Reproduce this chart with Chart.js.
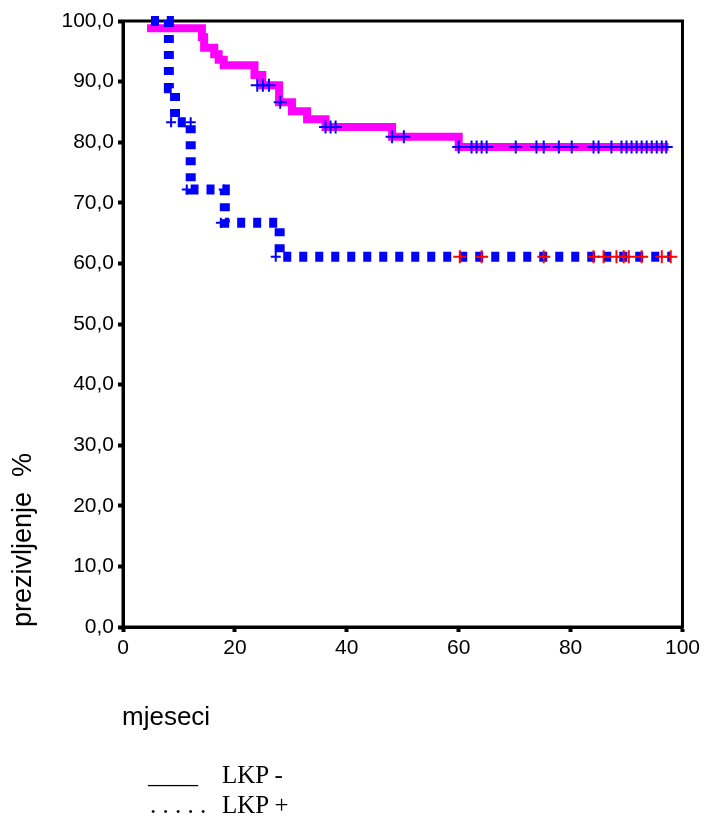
<!DOCTYPE html>
<html>
<head>
<meta charset="utf-8">
<script src="https://cdn.jsdelivr.net/npm/chart.js@4.4.1/dist/chart.umd.min.js"></script>
<style>
  html, body { margin: 0; padding: 0; background: #fff; }
  #wrap { position: relative; width: 704px; height: 816px; }
  #chart { position: absolute; left: 0; top: 0; }
  .lbl { position: absolute; white-space: pre; color: #000; }
  .sans { font-family: 'Liberation Sans', Arial, sans-serif; }
  .serif { font-family: 'Liberation Serif', 'Times New Roman', serif; font-size: 25px; line-height: 25px; }
  #yTitle { font-size: 27px; line-height: 27px; left: 9px; top: 627px; transform: rotate(-90deg); transform-origin: left top; }
  #xTitle { font-size: 26px; line-height: 26px; left: 122px; top: 703px; }
</style>
</head>
<body>
<div id="wrap">
  <canvas id="chart" width="704" height="816"></canvas>
  <div id="yTitle" class="lbl sans">prezivljenje  %</div>
  <div id="xTitle" class="lbl sans">mjeseci</div>
  <div class="lbl serif" style="left:148px; top:762px;">____</div>
  <div class="lbl serif" style="left:222px; top:762px;">LKP -</div>
  <div class="lbl serif" style="left:150px; top:792px;">. . . . .</div>
  <div class="lbl serif" style="left:222px; top:792px;">LKP +</div>
</div>
<script>
// LKP - (solid magenta) : step times and survival %
const monthsNeg = [4.3, 14.1, 14.5, 16.3, 17.1, 18.0, 23.5, 24.9, 27.9, 30.2, 32.9, 36.2, 48.1, 60.0, 97.5];
const survNeg = [98.8, 97.3, 95.6, 94.5, 93.6, 92.7, 91.1, 89.4, 86.6, 85.1, 83.8, 82.5, 80.9, 79.2, 79.2];

// LKP + (dotted blue)
const monthsPos = [5.0, 8.2, 9.3, 12.1, 18.2, 28.0, 97.8];
const survPos = [100, 88.9, 83.3, 72.2, 66.7, 61.1, 61.1];

// censored cases
const censNegMonths = [24.0, 25.0, 26.1, 28.1, 36.2, 37.1, 38.0, 48.1, 50.2,
  60.0, 62.3, 63.2, 64.1, 65.0, 70.2, 73.9, 75.2, 77.9, 80.2, 84.1, 85.0, 87.3,
  89.1, 90.0, 90.9, 91.8, 92.7, 93.6, 94.5, 95.4, 96.3, 97.1];
const censNegSurv = [89.4, 89.4, 89.4, 86.6, 82.5, 82.5, 82.5, 80.9, 80.9,
  79.2, 79.2, 79.2, 79.2, 79.2, 79.2, 79.2, 79.2, 79.2, 79.2, 79.2, 79.2, 79.2,
  79.2, 79.2, 79.2, 79.2, 79.2, 79.2, 79.2, 79.2, 79.2, 79.2];

const censPosEarlyMonths = [8.0, 8.6, 12.1, 11.4, 18.0, 17.5, 27.3];
const censPosEarlySurv = [100, 83.3, 83.3, 72.2, 72.2, 66.7, 61.1];
const censPosMonths = [60.2, 64.1, 75.2, 84.1, 85.9, 88.2, 89.5, 90.4, 92.7, 96.3, 97.9];
const censPosSurv = [61.1, 61.1, 61.1, 61.1, 61.1, 61.1, 61.1, 61.1, 61.1, 61.1, 61.1];

const xTickLabels = ['0', '20', '40', '60', '80', '100'];
const yTickLabels = ['0,0', '10,0', '20,0', '30,0', '40,0', '50,0', '60,0', '70,0', '80,0', '90,0', '100,0'];

function pts(xs, ys) {
    return xs.map((x, i) => ({ x: x, y: ys[i] }));
}

const frame = {
    id: 'frame',
    beforeDatasetsDraw(chart) {
        const { ctx, chartArea: a } = chart;
        ctx.save();
        ctx.strokeStyle = '#000';
        ctx.lineWidth = 3;
        ctx.strokeRect(a.left, a.top, a.right - a.left, a.bottom - a.top);
        ctx.restore();
    }
};

function censorSet(xs, ys, color, r) {
    return {
        type: 'scatter',
        data: pts(xs, ys),
        showLine: false,
        pointStyle: 'cross',
        pointRadius: r,
        pointBorderWidth: 2,
        pointBorderColor: color,
        pointBackgroundColor: color,
        clip: false,
        order: 0
    };
}

Chart.defaults.font.family = "'Liberation Sans', Arial, sans-serif";
Chart.defaults.color = '#000';

new Chart(document.getElementById('chart'), {
    type: 'line',
    data: {
        datasets: [
            censorSet(censNegMonths, censNegSurv, '#0000ff', 6.5),
            censorSet(censPosMonths, censPosSurv, '#ff0000', 6.5),
            censorSet(censPosEarlyMonths, censPosEarlySurv, '#0000ff', 5),
            {
                label: 'LKP +',
                data: pts(monthsPos, survPos),
                stepped: true,
                borderColor: '#0000ff',
                borderWidth: 10,
                borderDash: [8, 8],
                borderCapStyle: 'butt',
                pointRadius: 0,
                fill: false,
                clip: false,
                order: 1
            },
            {
                label: 'LKP -',
                data: pts(monthsNeg, survNeg),
                stepped: true,
                borderColor: '#ff00ff',
                borderWidth: 8,
                borderJoinStyle: 'miter',
                pointRadius: 0,
                fill: false,
                clip: false,
                order: 2
            }
        ]
    },
    options: {
        responsive: false,
        devicePixelRatio: 1,
        animation: false,
        layout: { padding: { top: 21, right: 20, left: 0, bottom: 0 } },
        plugins: {
            legend: { display: false },
            tooltip: { enabled: false }
        },
        scales: {
            x: {
                type: 'linear',
                min: 0,
                max: 100,
                afterFit: s => { s.height = 189; },
                border: { display: true, color: '#000', width: 3 },
                grid: { drawOnChartArea: false, color: '#000', tickLength: 5, tickWidth: 4 },
                ticks: {
                    stepSize: 20,
                    padding: 4,
                    maxRotation: 0,
                    font: { size: 21 },
                    callback: (v, i) => xTickLabels[i]
                }
            },
            y: {
                min: 0,
                max: 100,
                afterFit: s => { s.width = 123; },
                border: { display: true, color: '#000', width: 3 },
                grid: { drawOnChartArea: false, color: '#000', tickLength: 5, tickWidth: 4 },
                ticks: {
                    stepSize: 10,
                    padding: 4,
                    font: { size: 21 },
                    callback: (v, i) => yTickLabels[i]
                }
            }
        }
    },
    plugins: [frame]
});
</script>
</body>
</html>
